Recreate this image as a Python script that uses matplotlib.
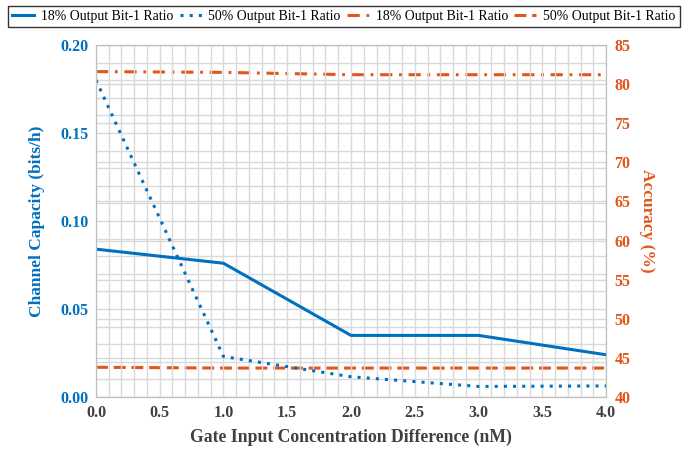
import numpy as np
import matplotlib.pyplot as plt
from matplotlib.ticker import MultipleLocator

# ***** DATA *****
gap_nM = [0.0, 1.0, 2.0, 3.0, 4.0]
cap_18 = [0.084, 0.076, 0.035, 0.035, 0.024]      # channel capacity, 18% bit-1 ratio
cap_50 = [0.180, 0.023, 0.0115, 0.006, 0.0063]    # channel capacity, 50% bit-1 ratio
acc_18 = [81.6, 81.5, 81.2, 81.2, 81.2]           # accuracy (%), 18% bit-1 ratio
acc_50 = [43.8, 43.7, 43.7, 43.7, 43.7]           # accuracy (%), 50% bit-1 ratio
series_names = ["18% Output Bit-1 Ratio", "50% Output Bit-1 Ratio",
                "18% Output Bit-1 Ratio", "50% Output Bit-1 Ratio"]

BLUE = "#0070C0"
ORANGE = "#E0561B"
GRID = "#D9D9D9"

plt.rcParams['font.family'] = ['Liberation Serif', 'DejaVu Serif']

fig = plt.figure(figsize=(6.99, 4.49), dpi=100)
ax = fig.add_axes([0.1373, 0.1158, 0.7297, 0.784])
ax2 = ax.twinx()
ax.set_zorder(ax2.get_zorder() + 1)
ax.patch.set_visible(False)

# --- left axis: channel capacity ---
l1, = ax.plot(gap_nM, cap_18, color=BLUE, lw=2.2, ls='-')
l2, = ax.plot(gap_nM, cap_50, color=BLUE, lw=2.2, ls=(0, (1, 2)))
ax.set_xlim(0, 4)
ax.set_ylim(0, 0.2)
ax.xaxis.set_minor_locator(MultipleLocator(0.1))
ax.yaxis.set_minor_locator(MultipleLocator(0.01))
ax.grid(True, which='both', color=GRID, lw=1.0)
ax.set_axisbelow(True)
ax.tick_params(which='both', length=0)
ax.tick_params(axis='y', colors=BLUE, labelsize=11.5, pad=5.5)
ax.tick_params(axis='x', colors='#404040', labelsize=11.5, pad=6)
yt = np.arange(0, 0.201, 0.05)
ax.set_yticks(yt)
ax.set_yticklabels([f"{v:.2f}" for v in yt], fontweight='bold')
xt = np.arange(0, 4.01, 0.5)
ax.set_xticks(xt)
ax.set_xticklabels([f"{v:.1f}" for v in xt], fontweight='bold')
ax.set_xlabel("Gate Input Concentration Difference (nM)", fontsize=12.7,
              fontweight='bold', color='#404040', labelpad=5)
ax.set_ylabel("Channel Capacity (bits/h)", fontsize=12.5, fontweight='bold',
              color=BLUE, labelpad=11)

# --- right axis: accuracy ---
l3, = ax2.plot(gap_nM, acc_18, color=ORANGE, lw=2.2, ls=(0, (4, 2.2, 0.9, 2.2)))
l4, = ax2.plot(gap_nM, acc_50, color=ORANGE, lw=2.2, ls=(0, (3.9, 1.9)))
ax2.set_ylim(40, 85)
ax2.yaxis.set_major_locator(MultipleLocator(5))
ax2.grid(True, which='major', axis='y', color=GRID, lw=1.0)
ax2.tick_params(length=0, colors=ORANGE, labelsize=11.5, pad=6)
for lab in ax2.get_yticklabels():
    lab.set_fontweight('bold')
ax2.set_ylabel("Accuracy (%)", fontsize=12.5, fontweight='bold', color=ORANGE,
               rotation=270, labelpad=18)

for a in (ax, ax2):
    for sp in a.spines.values():
        sp.set_color('#BFBFBF')

leg = fig.legend([l1, l2, l3, l4], series_names, loc='upper center',
                 bbox_to_anchor=(0.492, 0.987), ncol=4, fontsize=9.9,
                 frameon=True, fancybox=False, edgecolor='black',
                 handlelength=1.6, columnspacing=0.45, handletextpad=0.5,
                 borderpad=0.3, borderaxespad=0)
leg.get_frame().set_linewidth(1.0)

fig.savefig("out.png", dpi=100)
